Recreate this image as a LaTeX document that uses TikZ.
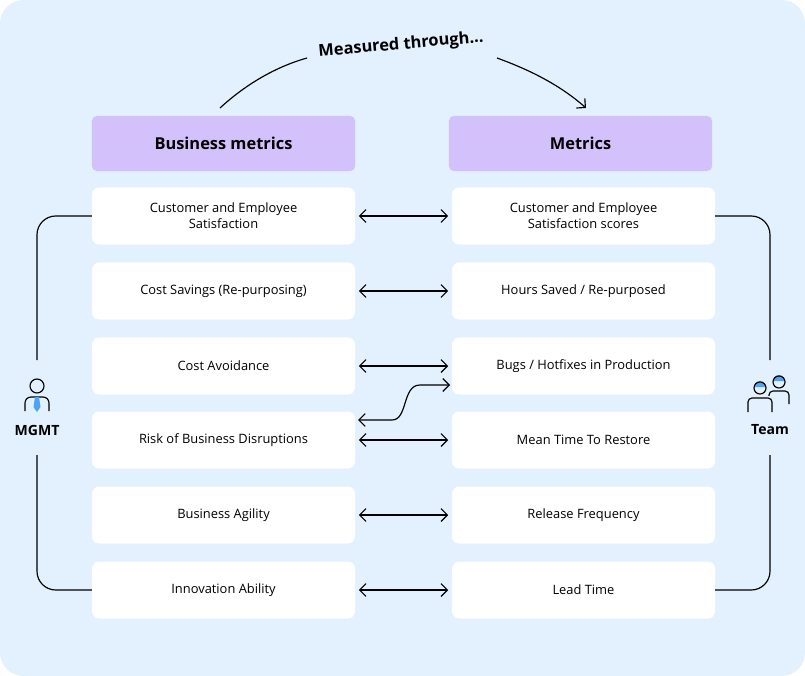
\documentclass[tikz,border=0pt]{standalone}
\usepackage{fontspec}
\setmainfont{Open Sans}
\usetikzlibrary{positioning,arrows.meta}
\definecolor{bgblue}{HTML}{E3F0FD}
\definecolor{headpurple}{HTML}{D3C1FB}
\definecolor{iconblue}{HTML}{4EA3F5}
\tikzset{
  cell/.style={fill=white, rounded corners=6pt, minimum width=7.89cm, minimum height=1.71cm, align=center, font=\fontsize{11}{13.5}\selectfont},
  head/.style={fill=headpurple, rounded corners=4pt, minimum width=7.89cm, minimum height=1.65cm, font=\fontsize{14}{16}\selectfont\bfseries},
  link/.style={{Straight Barb[length=5.5pt,width=11pt]}-{Straight Barb[length=5.5pt,width=11pt]}, line width=1pt},
  side/.style={line width=1pt, rounded corners=16pt},
}
\begin{document}
\begin{tikzpicture}[x=0.03cm,y=-0.03cm]
\useasboundingbox (0,0) rectangle (805,676);
\fill[bgblue, rounded corners=20pt] (0,0) rectangle (805,676);
% headers
\node[head] (bm) at (223.5,143.5) {Business metrics};
\node[head] (mt) at (580.5,143.5) {Metrics};
% rows
\node[cell] (b1) at (223.5,216) {Customer and Employee\\Satisfaction};
\node[cell] (b2) at (223.5,291) {Cost Savings (Re-purposing)};
\node[cell] (b3) at (223.5,366) {Cost Avoidance};
\node[cell] (b4) at (223.5,440) {Risk of Business Disruptions};
\node[cell] (b5) at (223.5,515) {Business Agility};
\node[cell] (b6) at (223.5,590) {Innovation Ability};
\node[cell] (m1) at (583.5,216) {Customer and Employee\\Satisfaction scores};
\node[cell] (m2) at (583.5,291) {Hours Saved / Re-purposed};
\node[cell] (m3) at (583.5,366) {Bugs / Hotfixes in Production};
\node[cell] (m4) at (583.5,440) {Mean Time To Restore};
\node[cell] (m5) at (583.5,515) {Release Frequency};
\node[cell] (m6) at (583.5,590) {Lead Time};
% links
\foreach \i in {1,2,3,4,5,6}
  \draw[link] ([xshift=3pt]b\i.east) -- ([xshift=-3pt]m\i.west);
\coordinate (sUp) at (450,385);
\coordinate (sLow) at (358,420);
\draw[link] (sLow) -- (392,420) .. controls (408,420) and (402,385) .. (420,385) -- (sUp);
% top arrow
\node[rotate=5, font=\fontsize{14}{16}\selectfont\bfseries] (meas) at (401,45) {Measured through...};
\coordinate (tL) at (220,108);
\coordinate (tR) at (586,108);
\draw[line width=1pt] (tL) .. controls (245,85) and (275,67) .. (307,58);
\draw[line width=1pt, -{Straight Barb[length=5.5pt,width=11pt]}] (497,58) .. controls (530,70) and (560,85) .. (tR);
% sides
\draw[side] (b1.west) -| (37,360);
\draw[side] (b6.west) -| (37,455);
\draw[side] (m1.east) -| (770,360);
\draw[side] (m6.east) -| (770,455);
% MGMT icon
\node[font=\fontsize{12}{14}\selectfont\bfseries] (mg) at (37,430) {MGMT};
\draw[line width=1pt] (37,386) circle (7);
\draw[line width=1pt] (25,411) -- (25,403) arc (180:270:6) -- (43,397) arc (270:360:6) -- (49,411);
\fill[iconblue] (35,397) -- (39,397) -- (40.5,407) -- (37,412) -- (33.5,407) -- cycle;
% Team icon
\node[font=\fontsize{12}{14}\selectfont\bfseries] (tm) at (770,430) {Team};
\begin{scope}[shift={(779,382)}]
  \fill[iconblue] (-6,-1) arc (180:360:6) -- cycle;
  \draw[line width=1pt] (0,0) circle (6);
  \draw[line width=1pt] (-10,22) -- (-10,13) arc (180:270:4) -- (6,9) arc (270:360:4) -- (10,22);
\end{scope}
\begin{scope}[shift={(760,388)}]
  \fill[bgblue] (-13,8) rectangle (13,26);
  \fill[iconblue] (-6,-1) arc (180:360:6) -- cycle;
  \draw[line width=1pt] (0,0) circle (6);
  \draw[line width=1pt] (-12,24) -- (-12,14) arc (180:270:4) -- (8,10) arc (270:360:4) -- (12,24);
\end{scope}
\end{tikzpicture}
\end{document}
